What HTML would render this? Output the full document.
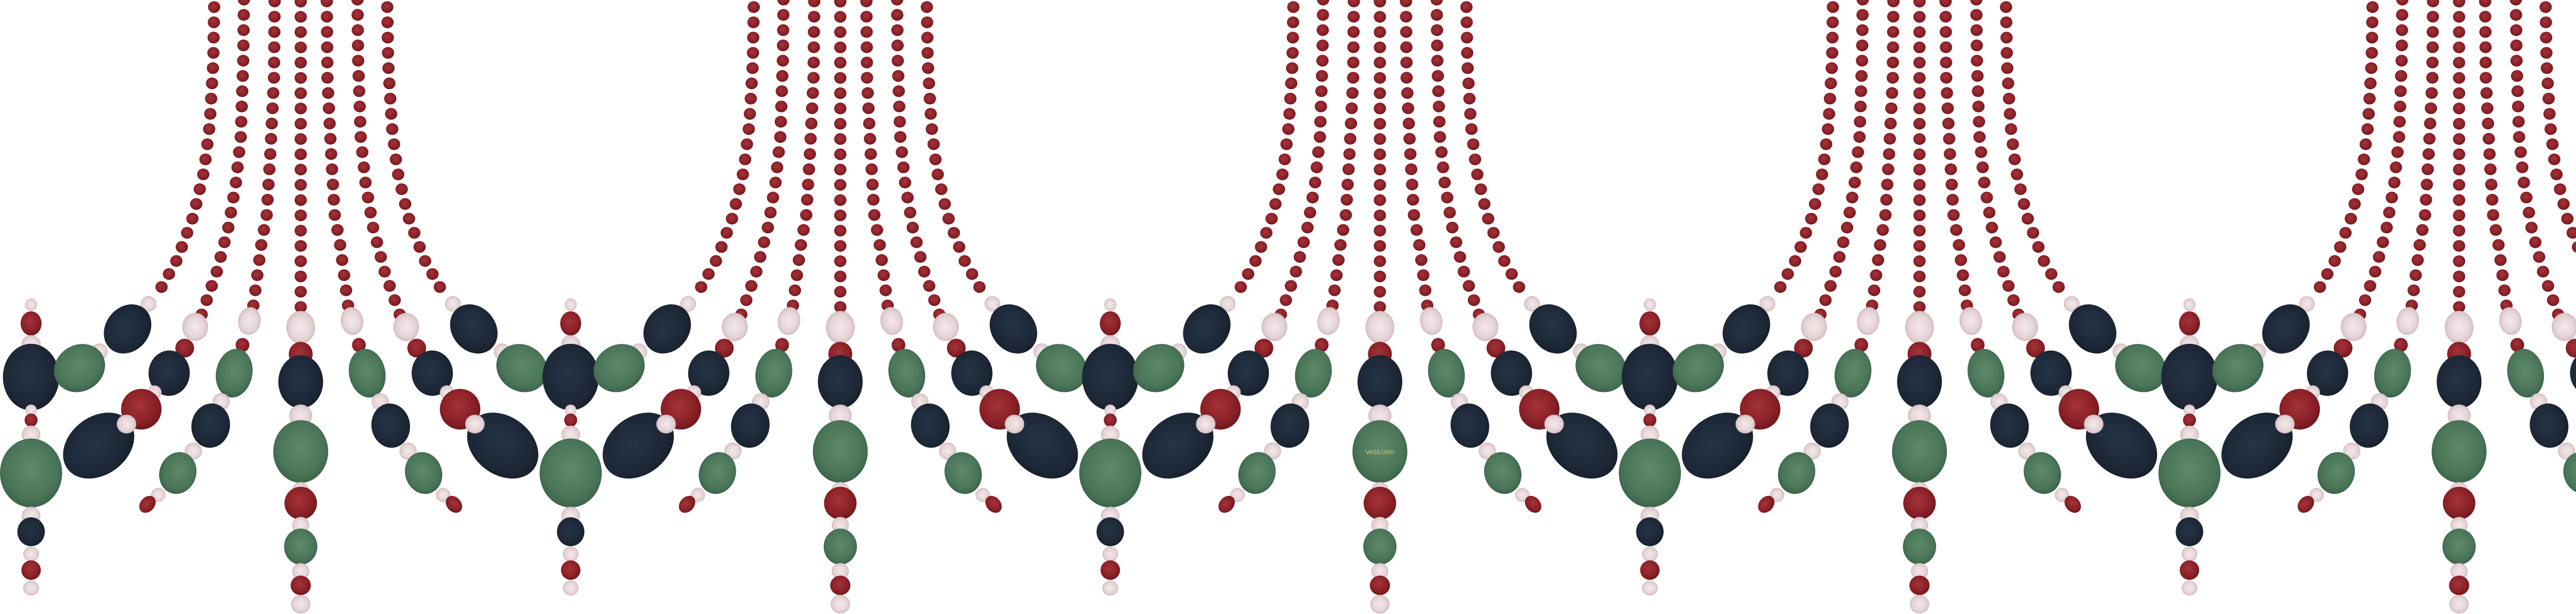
<!DOCTYPE html>
<html><head><meta charset="utf-8"><style>
html,body{margin:0;padding:0;background:#fff;width:5357px;height:1191px;overflow:hidden}
svg{display:block;overflow:hidden}
</style></head><body>
<svg id="garland" width="5357" height="1191" viewBox="0 0 5357 1191" xmlns="http://www.w3.org/2000/svg">
<defs>
<radialGradient id="gP" cx="50%" cy="50%" r="50%"><stop offset="0" stop-color="#f3e9ea"/><stop offset="0.7" stop-color="#e6d5d7"/><stop offset="1" stop-color="#d4bfc2"/></radialGradient>
<radialGradient id="gR" cx="45%" cy="42%" r="55%"><stop offset="0" stop-color="#a3343a"/><stop offset="0.75" stop-color="#8a2027"/><stop offset="1" stop-color="#741a20"/></radialGradient>
<radialGradient id="gN" cx="45%" cy="45%" r="55%"><stop offset="0" stop-color="#243546"/><stop offset="0.8" stop-color="#1d2736"/><stop offset="1" stop-color="#18212d"/></radialGradient>
<radialGradient id="gG" cx="50%" cy="45%" r="55%"><stop offset="0" stop-color="#5e8a6c"/><stop offset="0.75" stop-color="#4a7558"/><stop offset="1" stop-color="#3c634a"/></radialGradient>
<clipPath id="frame"><rect x="0" y="0" width="5357" height="1191"/></clipPath>
</defs>
<g clip-path="url(#frame)"><g id="root" transform="scale(0.70151,0.75953)"></g></g>
</svg>
<script>
const period = 1493;
const unitCount = 5;
const sideStrandY = [778,826,880,963,1048,1073,1110,1208,1317,1358,1415,1456,1502];
const sideStrandRX = [17,29,27,78,16,18,26,86,26,38,22,27,22];
const sideStrandRY = [16,31,24,85,15,17,23,88,23,37,19,25,19];
const sideStrandC = ['P','R','P','N','P','R','P','G','P','N','P','R','P'];
const centerY = [836,904,975,1061,1153,1252,1285,1341,1396,1459,1495,1543];
const centerRX = [40,33,62,32,76,24,45,24,46,24,28,27];
const centerRY = [42,31,68,28,80,21,42,21,46,21,25,24];
const centerC = ['P','R','N','P','G','P','R','P','G','P','R','P'];
const armBeads = [
 [411,776,22,20,0,'P'],[353,840,70,58,-38,'N'],[275,898,23,21,0,'P'],[220,940,72,60,-20,'G'],
 [540,835,36,36,0,'P'],[511,889,26,24,0,'R'],[468,953,57,58,15,'N'],[427,1002,20,18,0,'P'],
 [391,1045,56,52,0,'R'],[273,1138,105,76,-30,'N'],[350,1083,27,24,0,'P'],
 [690,820,31,36,15,'P'],[671,881,19,18,0,'R'],[648,953,50,63,15,'G'],[612,1026,24,22,0,'P'],
 [583,1087,53,57,20,'N'],[535,1152,24,22,0,'P'],[492,1208,50,55,35,'G'],[438,1264,20,18,0,'P'],
 [408,1288,25,19,-40,'R']
];
const strandA = [[593,-10],[590,160],[580,320],[565,435],[535,552],[490,663],[447,733]];
const strandB = [[675,-10],[673,155],[666,350],[653,465],[632,580],[600,693],[558,803]];
const strandC = [[760,-10],[758,200],[748,390],[738,548],[723,625],[701,780]];
const strandD = [[832,-10],[832,784]];
const spacing = 39;

const NS='http://www.w3.org/2000/svg';
const root=document.getElementById('root');
const fill={P:'url(#gP)',R:'url(#gR)',N:'url(#gN)',G:'url(#gG)'};
function bead(parent,x,y,rx,ry,rot,c){
  if(x*0.70151>5357+120)return;
  const e=document.createElementNS(NS,'ellipse');
  
  
  e.setAttribute('cx',x);e.setAttribute('cy',y);e.setAttribute('rx',rx);e.setAttribute('ry',ry);
  if(rot)e.setAttribute('transform','rotate('+rot+' '+x+' '+y+')');
  e.setAttribute('fill',fill[c]);
  parent.appendChild(e);
}
function dots(parent,pts,mirror,off){
  const p=pts.slice().reverse();
  let carry=0;
  for(let i=0;i<p.length-1;i++){
    const [x1,y1]=p[i],[x2,y2]=p[i+1];
    const L=Math.hypot(x2-x1,y2-y1);
    let t=carry;
    while(t<=L){
      let x=x1+(x2-x1)*t/L,y=y1+(y2-y1)*t/L;
      if(mirror)x=1664-x;
      bead(parent,x+off,y,17,15,0,'R');
      t+=spacing;
    }
    carry=t-L;
  }
}
for(let k=0;k<=unitCount;k++){
  const off=k*period;
  const g=document.createElementNS(NS,'g');
  
  
  root.appendChild(g);
  for(let i=0;i<sideStrandY.length;i++)bead(g,86+off,sideStrandY[i],sideStrandRX[i],sideStrandRY[i],0,sideStrandC[i]);
  if(k===unitCount)continue;
  [strandA,strandB,strandC].forEach(s=>{dots(g,s,false,off);dots(g,s,true,off);});
  dots(g,strandD,false,off);
  armBeads.forEach(b=>{
    bead(g,b[0]+off,b[1],b[2],b[3],b[4],b[5]);
    bead(g,1664-b[0]+off,b[1],b[2],b[3],-b[4],b[5]);
  });
  for(let i=0;i<centerY.length;i++)bead(g,832+off,centerY[i],centerRX[i],centerRY[i],0,centerC[i]);
}
const t=document.createElementNS(NS,'text');


t.setAttribute('x',832+2*period);t.setAttribute('y',1160);
t.setAttribute('text-anchor','middle');t.setAttribute('font-size','16');
t.setAttribute('font-family','Liberation Sans, sans-serif');t.setAttribute('fill','#d8c27a');
t.textContent='VASILUNO';
root.appendChild(t);
</script>
</body></html>
